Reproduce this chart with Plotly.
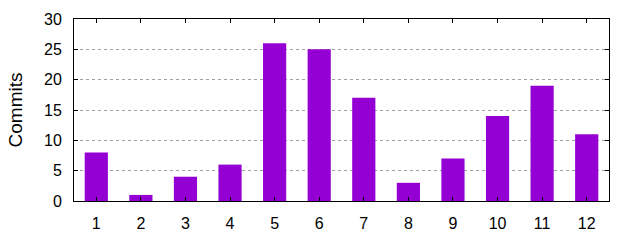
import plotly.graph_objects as go

months = [1, 2, 3, 4, 5, 6, 7, 8, 9, 10, 11, 12]
commits = [8, 1, 4, 6, 26, 25, 17, 3, 7, 14, 19, 11]
y_ticks = [0, 5, 10, 15, 20, 25, 30]

fig = go.Figure(go.Bar(x=months, y=commits, width=0.52,
                       marker=dict(color="#9400D3", line=dict(width=0))))

font = dict(family="Liberation Sans, Arial, sans-serif", size=16, color="#000000")
fig.update_layout(
    width=640, height=240,
    margin=dict(l=74, r=31, t=19, b=39),
    paper_bgcolor="white", plot_bgcolor="white",
    font=font, showlegend=False,
    xaxis=dict(range=[0.5, 12.5], tickmode="array", tickvals=months,
               ticktext=[str(m) for m in months],
               ticks="inside", ticklen=4, tickcolor="black",
               ticklabelstandoff=8, automargin=False,
               showline=True, linecolor="black", linewidth=1, mirror="allticks",
               showgrid=False, zeroline=False),
    yaxis=dict(range=[0, 30], tickmode="array", tickvals=y_ticks,
               ticks="inside", ticklen=4, tickcolor="black",
               ticklabelstandoff=8, automargin=False,
               showline=True, linecolor="black", linewidth=1, mirror="allticks",
               showgrid=True, gridcolor="#a0a0a0", griddash="dot", gridwidth=1,
               zeroline=False,
               title=dict(text="Commits", standoff=16)),
)
fig.write_html("out.html")
